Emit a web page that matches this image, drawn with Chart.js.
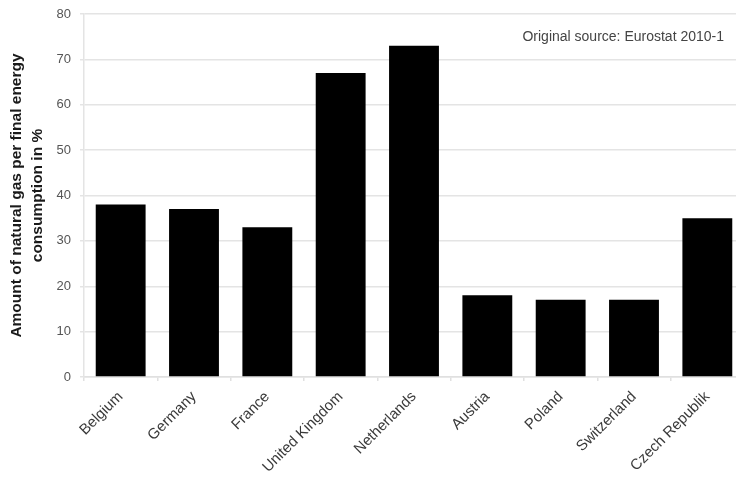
<!DOCTYPE html>
<html>
<head>
<meta charset="utf-8">
<script src="https://cdn.jsdelivr.net/npm/chart.js@4"></script>
<style>
  html, body { margin: 0; padding: 0; background: #fff; overflow: hidden; width: 736px; height: 484px; }
  #c { display: block; }
</style>
</head>
<body>
<canvas id="c" width="744" height="484"></canvas>
<script>
const categories = ["Belgium", "Germany", "France", "United Kingdom", "Netherlands", "Austria", "Poland", "Switzerland", "Czech Republik"];
const gasShare = [38, 37, 33, 67, 73, 18, 17, 17, 35];
const yTitleLines = ["Amount of natural gas per final energy", "consumption in %"];
const sourceNote = "Original source: Eurostat 2010-1";

const FONT = "'Liberation Sans', Arial, sans-serif";

const notePlugin = {
  id: 'note',
  afterDraw(chart) {
    const { ctx, chartArea, scales } = chart;
    ctx.save();
    ctx.font = "14px " + FONT;
    ctx.fillStyle = "#444";
    ctx.textAlign = "right";
    ctx.textBaseline = "middle";
    ctx.fillText(sourceNote, chartArea.right - 20, scales.y.getPixelForValue(75));
    ctx.restore();
  }
};

new Chart(document.getElementById('c'), {
  type: 'bar',
  data: {
    labels: categories,
    datasets: [{
      data: gasShare,
      backgroundColor: '#000',
      borderWidth: 0,
      barPercentage: 0.68,
      categoryPercentage: 1.0
    }]
  },
  options: {
    responsive: false,
    devicePixelRatio: 1,
    animation: false,
    layout: { padding: { top: 14, right: 0, left: 0, bottom: 0 } },
    plugins: { legend: { display: false }, tooltip: { enabled: false } },
    scales: {
      x: {
        grid: { drawOnChartArea: false, drawTicks: true, tickLength: 4, color: '#e0e0e0', lineWidth: 1.5 },
        border: { display: true, color: '#e0e0e0', width: 1.5 },
        ticks: {
          maxRotation: 45, minRotation: 45, autoSkip: false,
          labelOffset: 0,
          padding: 7,
          color: '#3a3a3a',
          font: { family: FONT, size: 15 }
        },
        afterFit(scale) { scale.height = 107; }
      },
      y: {
        min: 0, max: 80,
        ticks: { stepSize: 10, color: '#555', font: { family: FONT, size: 13 }, padding: 9 },
        grid: { color: '#e4e4e4', lineWidth: 1.5, tickLength: 4 },
        border: { display: true, color: '#e4e4e4', width: 1.5 },
        title: {
          display: true,
          text: yTitleLines,
          color: '#1a1a1a',
          font: { family: FONT, size: 15.5, weight: 'bold', lineHeight: 1.35 },
          padding: { top: 6, bottom: 0 }
        },
        afterFit(scale) { scale.width = 84; scale.paddingTop = 0; scale.paddingBottom = 0; }
      }
    }
  },
  plugins: [notePlugin]
});
</script>
</body>
</html>
